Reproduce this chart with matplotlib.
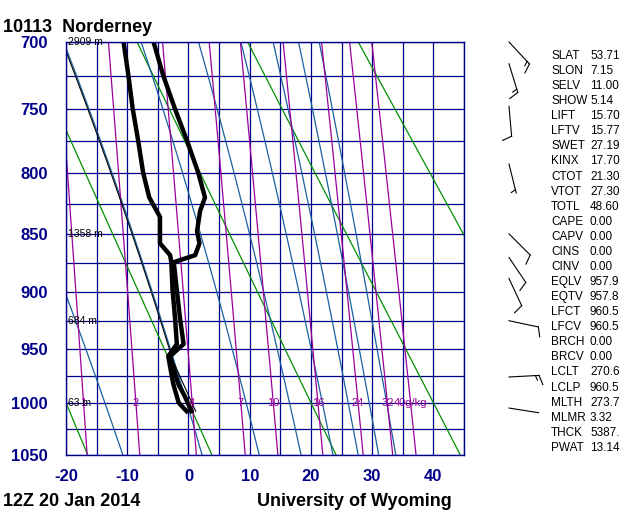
import numpy as np
import matplotlib
matplotlib.use('Agg')
import matplotlib.pyplot as plt
from matplotlib.lines import Line2D
from matplotlib.ticker import NullLocator

plt.rcParams['font.family'] = ['Liberation Sans', 'DejaVu Sans']

# sounding 10113 Norderney, 12Z 20 Jan 2014
pres_t = [1008, 994, 982, 957, 946, 922, 898, 874, 868, 858, 848, 831, 820, 800, 775, 750, 725, 700]
temp = [0.5, -0.6, -1.7, -3.0, -0.8, -1.4, -1.9, -2.4, 1.1, 1.8, 1.4, 1.9, 2.7, 1.6, -0.2, -2.2, -4.1, -5.7]
pres_td = [1008, 1000, 982, 957, 946, 922, 898, 874, 868, 858, 851, 836, 820, 800, 775, 750, 725, 700]
dwpt = [-0.3, -1.6, -2.5, -3.3, -1.9, -2.2, -2.6, -2.8, -3.0, -4.65, -4.65, -4.65, -6.4, -7.4, -8.2, -9.1, -9.8, -10.6]

height_p = [700, 850, 925, 1000]
height_lbl = ['2909 m', '1358 m', '684 m', '63 m']

wind_p = [700, 716, 748, 793, 850, 870, 888, 925, 976, 1005]
wind_dir = [137, 163, 175, 166, 135, 146, 155, 102, 87, 99]
wind_kt = [15, 15, 10, 5, 10, 10, 10, 10, 15, 2]

index_names = ['SLAT', 'SLON', 'SELV', 'SHOW', 'LIFT', 'LFTV', 'SWET', 'KINX', 'CTOT',
               'VTOT', 'TOTL', 'CAPE', 'CAPV', 'CINS', 'CINV', 'EQLV', 'EQTV', 'LFCT',
               'LFCV', 'BRCH', 'BRCV', 'LCLT', 'LCLP', 'MLTH', 'MLMR', 'THCK', 'PWAT']
index_vals = ['53.71', '7.15', '11.00', '5.14', '15.70', '15.77', '27.19', '17.70', '21.30',
              '27.30', '48.60', '0.00', '0.00', '0.00', '0.00', '957.9', '957.8', '960.5',
              '960.5', '0.00', '0.00', '270.6', '960.5', '273.7', '3.32', '5387.', '13.14']

p_sfc = 1008
lclt, lclp, mlth = 270.6, 960.5, 273.7

# background lines of the Stuve diagram
mix_ratios = [1, 2, 4, 7, 10, 16, 24, 32, 40]
dry_theta = [-20, 0, 20, 40, 60]
moist_thetae = [-10, 10, 30, 50, 70, 90, 110, 130]

KAPPA = 0.2857
navy = '#00008b'
green = '#009000'
blue = '#1a60a0'
purple = '#9a009a'


def esat(t):
    return 6.112 * np.exp(17.67 * t / (t + 243.5))


def theta_e(t, p):
    tk = t + 273.15
    e = esat(t)
    r = 622.0 * e / (p - e)
    return tk * (1000.0 / p) ** (0.2854 * (1 - 0.28e-3 * r)) * \
        np.exp((3.376 / tk - 0.00254) * r * (1 + 0.81e-3 * r))


def moist_temp(the_k, pres):
    tgrid = np.linspace(-80, 60, 2801)
    return np.array([np.interp(the_k, theta_e(tgrid, pp), tgrid) for pp in pres])


def mixing_temp(w, pres):
    e = w * pres / (622.0 + w)
    a = np.log(e / 6.112)
    return 243.5 * a / (17.67 - a)


fig = plt.figure(figsize=(6.4, 5.12), dpi=100)
ax = fig.add_axes([66 / 640, 57 / 512, 398 / 640, 413 / 512])
ax.set_yscale('function', functions=(lambda p: np.power(np.abs(p), KAPPA),
                                     lambda y: np.power(np.abs(y), 1 / KAPPA)))
ax.set_xlim(-20, 45)
ax.set_ylim(1050, 700)

pp = np.linspace(700, 1050, 300)
for th in dry_theta:
    ax.plot((th + 273.15) * (pp / 1000) ** KAPPA - 273.15, pp, color=green, lw=0.9)
for te in moist_thetae:
    ax.plot(moist_temp(te + 273.15, pp), pp, color=blue, lw=0.9)
for w in mix_ratios:
    ax.plot(mixing_temp(w, pp), pp, color=purple, lw=0.9)
    lbl = '40g/kg' if w == 40 else str(w)
    ax.text(mixing_temp(w, 1000.0), 1000, lbl, color=purple, fontsize=8,
            ha='center', va='center')

# lifted parcel
p_dry = np.linspace(lclp, p_sfc, 20)
t_dry = mlth * (p_dry / 1000) ** KAPPA - 273.15
p_moist = np.linspace(700, lclp, 150)
t_moist = moist_temp(theta_e(lclt - 273.15, lclp), p_moist)
ax.plot(np.concatenate([t_moist, t_dry]), np.concatenate([p_moist, p_dry]), color='k', lw=0.8)

ax.plot(dwpt, pres_td, color='k', lw=3.2)
ax.plot(temp, pres_t, color='k', lw=3.2)

for p, lbl in zip(height_p, height_lbl):
    ax.text(-19.7, p, lbl, fontsize=7.5, ha='left', va='center', clip_on=False)

xt = np.arange(-20, 46, 5)
ax.set_xticks(xt)
ax.set_xticklabels([str(v) if v % 10 == 0 else '' for v in xt],
                   color=navy, fontsize=12, fontweight='bold')
yt = np.arange(700, 1051, 25)
ax.set_yticks(yt)
ax.set_yticklabels([str(v) if v % 50 == 0 else '' for v in yt],
                   color=navy, fontsize=12, fontweight='bold')
ax.yaxis.set_minor_locator(NullLocator())
ax.xaxis.set_minor_locator(NullLocator())
ax.tick_params(axis='x', length=0, pad=10)
ax.tick_params(axis='y', length=0, pad=13)
ax.grid(True, color=navy, lw=0.9)
ax.set_axisbelow(True)
for s in ax.spines.values():
    s.set_color(navy)
    s.set_linewidth(1.0)

# wind barbs (drawn in pixels, right column)
W, H = 640.0, 512.0


def barb(x0, y0, d, spd):
    u = np.array([np.sin(np.radians(d)), np.cos(np.radians(d))])
    a = np.radians(-70)
    v = np.array([u[0] * np.cos(a) - u[1] * np.sin(a), u[0] * np.sin(a) + u[1] * np.cos(a)])
    end = np.array([x0, y0]) + 30 * u
    segs = [(np.array([x0, y0]), end)]
    n_full, rest = divmod(int(round(spd / 5.0)) * 5, 10)
    k = 0
    for _ in range(n_full):
        b = end - k * 3.5 * u
        segs.append((b, b + 10 * v))
        k += 1
    if rest:
        k = max(k, 1)
        b = end - k * 3.5 * u
        segs.append((b, b + 5 * v))
    for a0, a1 in segs:
        fig.add_artist(Line2D([a0[0] / W, a1[0] / W], [a0[1] / H, a1[1] / H],
                              transform=fig.transFigure, color='k', lw=0.8))


for p, d, s in zip(wind_p, wind_dir, wind_kt):
    ydisp = ax.transData.transform((0, p))[1]
    barb(509.0, ydisp, d, s)

for i, (nm, val) in enumerate(zip(index_names, index_vals)):
    yy = 1 - (56 + 15.07 * i) / H
    fig.text(551 / W, yy, nm, fontsize=8.5, va='center', ha='left')
    fig.text(590 / W, yy, val, fontsize=8.5, va='center', ha='left')

fig.text(3 / W, 1 - 31.7 / H, '10113  Norderney', fontsize=13, fontweight='bold', va='baseline')
fig.text(3 / W, 1 - 506 / H, '12Z 20 Jan 2014', fontsize=13, fontweight='bold', va='baseline')
fig.text(257 / W, 1 - 506 / H, 'University of Wyoming', fontsize=13, fontweight='bold', va='baseline')

fig.savefig('out.png', dpi=100)
